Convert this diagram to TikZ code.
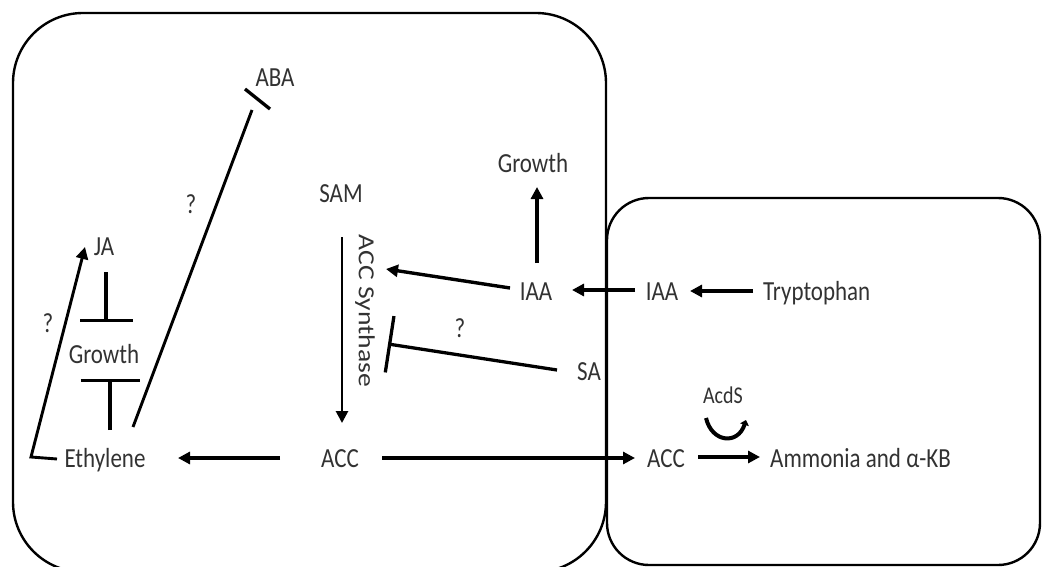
\documentclass[tikz,border=0pt]{standalone}
\usepackage{fontspec}
\setmainfont{Carlito}[FakeStretch=0.833]
\newfontfamily\rotfont{Carlito}[FakeStretch=1.2]
\usetikzlibrary{arrows.meta}
\definecolor{txt}{RGB}{50,50,50}
\begin{document}
\begin{tikzpicture}[x=1pt,y=-1pt,
  lbl/.style={font=\fontsize{27.6}{30}\selectfont, text=txt, inner sep=0pt, anchor=base},
  arr/.style={line width=3.4pt, -{Triangle[length=12pt,width=12pt]}},
  inh/.style={line width=3.3pt, -{Bar[width=#1]}},
  boxline/.style={line width=2.4pt, black}
]
\useasboundingbox (0,0) rectangle (1042,567);
\clip (0,0) rectangle (1042,567);
% compartments
\draw[boxline, rounded corners=70pt] (13,13) rectangle (606,572);
\draw[boxline, rounded corners=42pt] (607,198) rectangle (1040,565);
% labels
\node[lbl] (ABA) at (275,87) {ABA};
\node[lbl] (qABA) at (191,213) {?};
\node[lbl] (SAM) at (341,202) {SAM};
\node[lbl] (GrowthT) at (533,173) {Growth};
\node[lbl] (JA) at (104,255) {JA};
\node[lbl] (qJA) at (48,332) {?};
\node[lbl] (GrowthL) at (104,363) {Growth};
\node[lbl] (Eth) at (105,467) {Ethylene};
\node[lbl] (ACCl) at (340,467) {ACC};
\node[lbl] (IAAm) at (536,300) {IAA};
\node[lbl] (IAAr) at (662,300) {IAA};
\node[lbl, anchor=base west] (Trp) at (763,300) {Tryptophan};
\node[lbl] (qSA) at (460,337) {?};
\node[lbl, anchor=base west] (SA) at (577,380) {SA};
\node[lbl] (ACCr) at (666,467) {ACC};
\node[lbl, anchor=base west] (Amm) at (770,467) {Ammonia and α-KB};
\node[lbl, font=\fontsize{24}{26}\selectfont] (AcdS) at (723,403) {AcdS};
\node[rotate=-90, font=\rotfont\fontsize{23}{26}\selectfont, text=txt, inner sep=0pt] (ACCS) at (365,311) {ACC Synthase};
% coordinates
\coordinate (samS) at (342,237);
\coordinate (samE) at (342,423);
\coordinate (iaaS) at (510,288);
\coordinate (iaaE) at (386,269);
\coordinate (grS) at (537,263);
\coordinate (grE) at (537,187);
\coordinate (iarS) at (635,290);
\coordinate (iarE) at (572,290);
\coordinate (trS) at (753,291);
\coordinate (trE) at (690,291);
\coordinate (saS) at (557,370);
\coordinate (saE) at (388,344);
\coordinate (acS) at (382,458);
\coordinate (acE) at (635,458);
\coordinate (amS) at (698,457);
\coordinate (amE) at (760,457);
\coordinate (ethS) at (280,458);
\coordinate (ethE) at (178,458);
\coordinate (egS) at (110,430);
\coordinate (egE) at (110,379);
\coordinate (jgS) at (106,272);
\coordinate (jgE) at (106,322);
\coordinate (ejS) at (57,459);
\coordinate (ejC) at (31,457);
\coordinate (ejE) at (85,247);
\coordinate (eaS) at (133,427);
\coordinate (eaE) at (252,110);
\coordinate (abA) at (245,89);
\coordinate (abB) at (270,109);
\coordinate (cuA) at (706,418);
\coordinate (cuB) at (746,420);
% connectors
\draw[arr, line width=2.7pt] (samS) -- (samE);
\draw[arr] (iaaS) -- (iaaE);
\draw[arr] (grS) -- (grE);
\draw[arr] (iarS) -- (iarE);
\draw[arr] (trS) -- (trE);
\draw[inh=57pt] (saS) -- (saE);
\draw[arr] (acS) -- (acE);
\draw[arr] (amS) -- (amE);
\draw[arr] (ethS) -- (ethE);
\draw[inh=59pt] (egS) -- (egE);
\draw[inh=53pt] (jgS) -- (jgE);
\draw[arr, line width=2.9pt] (ejS) -- (ejC) -- (ejE);
\draw[line width=2.9pt] (eaS) -- (eaE);
\draw[line width=3.3pt] (abA) -- (abB);
\draw[line width=4pt, -{Triangle[length=5pt,width=9pt]}] (cuA) .. controls (712,443) and (738,445) .. (cuB);
\end{tikzpicture}
\end{document}
